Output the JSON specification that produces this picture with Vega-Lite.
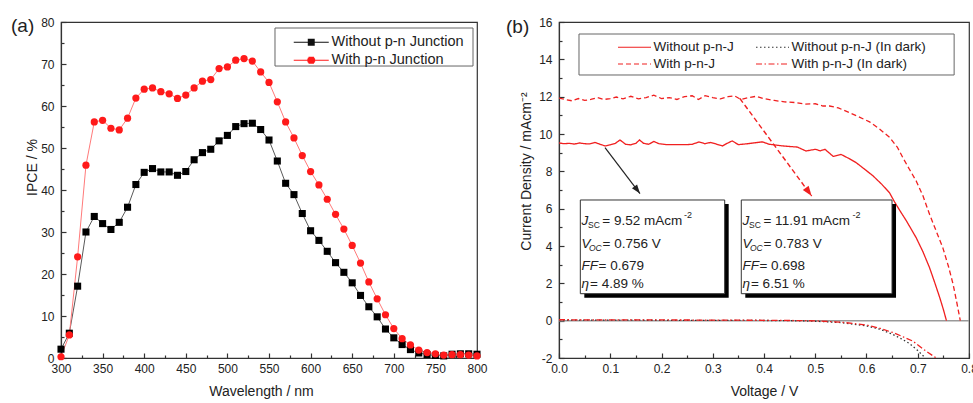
{
  "$schema": "https://vega.github.io/schema/vega-lite/v6.json",
  "background": "white",
  "padding": {"left": 10, "top": 15, "right": 0, "bottom": 0},
  "spacing": 17,
  "resolve": {"scale": {"color": "independent", "strokeDash": "independent", "shape": "independent", "stroke": "independent"}, "legend": {"color": "independent", "strokeDash": "independent", "shape": "independent", "stroke": "independent"}},
  "config": {
    "font": "Liberation Sans",
    "view": {"stroke": "#333333", "strokeWidth": 1.2},
    "axis": {"labelFont": "Liberation Sans", "titleFont": "Liberation Sans", "labelFontSize": 12, "titleFontSize": 14, "titleFontWeight": "normal", "labelColor": "#222222", "titleColor": "#222222", "domainColor": "#333333", "domainWidth": 1.2, "tickColor": "#333333", "tickWidth": 1.2, "grid": false},
    "legend": {"labelFont": "Liberation Sans", "labelColor": "#222222"},
    "text": {"font": "Liberation Sans", "color": "#222222"}
  },
  "datasets": {
    "ipce": [
      {"w":300,"v":2.1,"s":"Without p-n Junction"},{"w":310,"v":5.9,"s":"Without p-n Junction"},{"w":320,"v":17.1,"s":"Without p-n Junction"},{"w":330,"v":30.0,"s":"Without p-n Junction"},{"w":340,"v":33.7,"s":"Without p-n Junction"},{"w":350,"v":32.0,"s":"Without p-n Junction"},{"w":360,"v":30.6,"s":"Without p-n Junction"},{"w":370,"v":32.3,"s":"Without p-n Junction"},{"w":380,"v":35.9,"s":"Without p-n Junction"},{"w":390,"v":41.3,"s":"Without p-n Junction"},{"w":400,"v":44.2,"s":"Without p-n Junction"},{"w":410,"v":45.1,"s":"Without p-n Junction"},{"w":420,"v":44.3,"s":"Without p-n Junction"},{"w":430,"v":44.3,"s":"Without p-n Junction"},{"w":440,"v":43.5,"s":"Without p-n Junction"},{"w":450,"v":44.4,"s":"Without p-n Junction"},{"w":460,"v":47.2,"s":"Without p-n Junction"},{"w":470,"v":48.9,"s":"Without p-n Junction"},{"w":480,"v":49.7,"s":"Without p-n Junction"},{"w":490,"v":51.7,"s":"Without p-n Junction"},{"w":500,"v":53.0,"s":"Without p-n Junction"},{"w":510,"v":55.1,"s":"Without p-n Junction"},{"w":520,"v":55.8,"s":"Without p-n Junction"},{"w":530,"v":55.9,"s":"Without p-n Junction"},{"w":540,"v":54.4,"s":"Without p-n Junction"},{"w":550,"v":51.9,"s":"Without p-n Junction"},{"w":560,"v":46.9,"s":"Without p-n Junction"},{"w":570,"v":41.6,"s":"Without p-n Junction"},{"w":580,"v":38.9,"s":"Without p-n Junction"},{"w":590,"v":34.4,"s":"Without p-n Junction"},{"w":600,"v":30.3,"s":"Without p-n Junction"},{"w":610,"v":28.0,"s":"Without p-n Junction"},{"w":620,"v":25.4,"s":"Without p-n Junction"},{"w":630,"v":22.7,"s":"Without p-n Junction"},{"w":640,"v":20.4,"s":"Without p-n Junction"},{"w":650,"v":17.9,"s":"Without p-n Junction"},{"w":660,"v":14.9,"s":"Without p-n Junction"},{"w":670,"v":12.2,"s":"Without p-n Junction"},{"w":680,"v":9.8,"s":"Without p-n Junction"},{"w":690,"v":6.9,"s":"Without p-n Junction"},{"w":700,"v":4.8,"s":"Without p-n Junction"},{"w":710,"v":3.2,"s":"Without p-n Junction"},{"w":720,"v":2.0,"s":"Without p-n Junction"},{"w":730,"v":1.2,"s":"Without p-n Junction"},{"w":740,"v":0.8,"s":"Without p-n Junction"},{"w":750,"v":0.6,"s":"Without p-n Junction"},{"w":760,"v":0.5,"s":"Without p-n Junction"},{"w":770,"v":0.9,"s":"Without p-n Junction"},{"w":780,"v":1.0,"s":"Without p-n Junction"},{"w":790,"v":1.0,"s":"Without p-n Junction"},{"w":800,"v":0.9,"s":"Without p-n Junction"},
      {"w":300,"v":0.3,"s":"With p-n Junction"},{"w":310,"v":5.5,"s":"With p-n Junction"},{"w":320,"v":24.1,"s":"With p-n Junction"},{"w":330,"v":45.9,"s":"With p-n Junction"},{"w":340,"v":56.2,"s":"With p-n Junction"},{"w":350,"v":56.6,"s":"With p-n Junction"},{"w":360,"v":54.7,"s":"With p-n Junction"},{"w":370,"v":54.3,"s":"With p-n Junction"},{"w":380,"v":57.1,"s":"With p-n Junction"},{"w":390,"v":61.9,"s":"With p-n Junction"},{"w":400,"v":64.0,"s":"With p-n Junction"},{"w":410,"v":64.3,"s":"With p-n Junction"},{"w":420,"v":63.4,"s":"With p-n Junction"},{"w":430,"v":62.9,"s":"With p-n Junction"},{"w":440,"v":61.8,"s":"With p-n Junction"},{"w":450,"v":62.6,"s":"With p-n Junction"},{"w":460,"v":64.3,"s":"With p-n Junction"},{"w":470,"v":65.9,"s":"With p-n Junction"},{"w":480,"v":66.3,"s":"With p-n Junction"},{"w":490,"v":68.9,"s":"With p-n Junction"},{"w":500,"v":69.3,"s":"With p-n Junction"},{"w":510,"v":70.9,"s":"With p-n Junction"},{"w":520,"v":71.3,"s":"With p-n Junction"},{"w":530,"v":70.7,"s":"With p-n Junction"},{"w":540,"v":68.1,"s":"With p-n Junction"},{"w":550,"v":65.6,"s":"With p-n Junction"},{"w":560,"v":61.0,"s":"With p-n Junction"},{"w":570,"v":56.2,"s":"With p-n Junction"},{"w":580,"v":52.4,"s":"With p-n Junction"},{"w":590,"v":48.2,"s":"With p-n Junction"},{"w":600,"v":44.4,"s":"With p-n Junction"},{"w":610,"v":41.2,"s":"With p-n Junction"},{"w":620,"v":37.8,"s":"With p-n Junction"},{"w":630,"v":34.2,"s":"With p-n Junction"},{"w":640,"v":30.7,"s":"With p-n Junction"},{"w":650,"v":26.8,"s":"With p-n Junction"},{"w":660,"v":22.6,"s":"With p-n Junction"},{"w":670,"v":18.1,"s":"With p-n Junction"},{"w":680,"v":14.1,"s":"With p-n Junction"},{"w":690,"v":10.3,"s":"With p-n Junction"},{"w":700,"v":7.0,"s":"With p-n Junction"},{"w":710,"v":4.6,"s":"With p-n Junction"},{"w":720,"v":3.1,"s":"With p-n Junction"},{"w":730,"v":1.9,"s":"With p-n Junction"},{"w":740,"v":1.3,"s":"With p-n Junction"},{"w":750,"v":1.0,"s":"With p-n Junction"},{"w":760,"v":0.7,"s":"With p-n Junction"},{"w":770,"v":0.8,"s":"With p-n Junction"},{"w":780,"v":0.8,"s":"With p-n Junction"},{"w":790,"v":0.7,"s":"With p-n Junction"},{"w":800,"v":0.5,"s":"With p-n Junction"}
    ],
    "jv": [
      {"V":0.000,"J":9.52,"s":"Without p-n-J"},{"V":0.010,"J":9.48,"s":"Without p-n-J"},{"V":0.020,"J":9.50,"s":"Without p-n-J"},{"V":0.030,"J":9.46,"s":"Without p-n-J"},{"V":0.040,"J":9.52,"s":"Without p-n-J"},{"V":0.050,"J":9.48,"s":"Without p-n-J"},{"V":0.060,"J":9.47,"s":"Without p-n-J"},{"V":0.070,"J":9.55,"s":"Without p-n-J"},{"V":0.080,"J":9.45,"s":"Without p-n-J"},{"V":0.090,"J":9.36,"s":"Without p-n-J"},{"V":0.100,"J":9.42,"s":"Without p-n-J"},{"V":0.110,"J":9.50,"s":"Without p-n-J"},{"V":0.119,"J":9.68,"s":"Without p-n-J"},{"V":0.130,"J":9.45,"s":"Without p-n-J"},{"V":0.140,"J":9.42,"s":"Without p-n-J"},{"V":0.150,"J":9.50,"s":"Without p-n-J"},{"V":0.157,"J":9.68,"s":"Without p-n-J"},{"V":0.165,"J":9.50,"s":"Without p-n-J"},{"V":0.175,"J":9.45,"s":"Without p-n-J"},{"V":0.185,"J":9.60,"s":"Without p-n-J"},{"V":0.195,"J":9.48,"s":"Without p-n-J"},{"V":0.210,"J":9.43,"s":"Without p-n-J"},{"V":0.230,"J":9.43,"s":"Without p-n-J"},{"V":0.250,"J":9.43,"s":"Without p-n-J"},{"V":0.260,"J":9.45,"s":"Without p-n-J"},{"V":0.273,"J":9.57,"s":"Without p-n-J"},{"V":0.285,"J":9.48,"s":"Without p-n-J"},{"V":0.296,"J":9.55,"s":"Without p-n-J"},{"V":0.308,"J":9.45,"s":"Without p-n-J"},{"V":0.319,"J":9.36,"s":"Without p-n-J"},{"V":0.328,"J":9.50,"s":"Without p-n-J"},{"V":0.338,"J":9.63,"s":"Without p-n-J"},{"V":0.350,"J":9.43,"s":"Without p-n-J"},{"V":0.365,"J":9.47,"s":"Without p-n-J"},{"V":0.380,"J":9.52,"s":"Without p-n-J"},{"V":0.397,"J":9.58,"s":"Without p-n-J"},{"V":0.410,"J":9.45,"s":"Without p-n-J"},{"V":0.425,"J":9.40,"s":"Without p-n-J"},{"V":0.437,"J":9.36,"s":"Without p-n-J"},{"V":0.450,"J":9.33,"s":"Without p-n-J"},{"V":0.465,"J":9.30,"s":"Without p-n-J"},{"V":0.482,"J":9.09,"s":"Without p-n-J"},{"V":0.500,"J":9.18,"s":"Without p-n-J"},{"V":0.510,"J":9.10,"s":"Without p-n-J"},{"V":0.519,"J":9.18,"s":"Without p-n-J"},{"V":0.535,"J":8.80,"s":"Without p-n-J"},{"V":0.550,"J":8.91,"s":"Without p-n-J"},{"V":0.565,"J":8.70,"s":"Without p-n-J"},{"V":0.580,"J":8.46,"s":"Without p-n-J"},{"V":0.597,"J":8.10,"s":"Without p-n-J"},{"V":0.613,"J":7.75,"s":"Without p-n-J"},{"V":0.630,"J":7.30,"s":"Without p-n-J"},{"V":0.645,"J":6.85,"s":"Without p-n-J"},{"V":0.655,"J":6.35,"s":"Without p-n-J"},{"V":0.665,"J":5.90,"s":"Without p-n-J"},{"V":0.678,"J":5.34,"s":"Without p-n-J"},{"V":0.697,"J":4.44,"s":"Without p-n-J"},{"V":0.710,"J":3.70,"s":"Without p-n-J"},{"V":0.723,"J":2.84,"s":"Without p-n-J"},{"V":0.733,"J":2.05,"s":"Without p-n-J"},{"V":0.743,"J":1.23,"s":"Without p-n-J"},{"V":0.750,"J":0.60,"s":"Without p-n-J"},{"V":0.756,"J":0.00,"s":"Without p-n-J"},
      {"V":0.000,"J":0.03,"s":"Without p-n-J (In dark)"},{"V":0.100,"J":0.03,"s":"Without p-n-J (In dark)"},{"V":0.200,"J":0.02,"s":"Without p-n-J (In dark)"},{"V":0.300,"J":0.02,"s":"Without p-n-J (In dark)"},{"V":0.400,"J":0.01,"s":"Without p-n-J (In dark)"},{"V":0.450,"J":0.00,"s":"Without p-n-J (In dark)"},{"V":0.500,"J":-0.03,"s":"Without p-n-J (In dark)"},{"V":0.550,"J":-0.10,"s":"Without p-n-J (In dark)"},{"V":0.600,"J":-0.28,"s":"Without p-n-J (In dark)"},{"V":0.625,"J":-0.45,"s":"Without p-n-J (In dark)"},{"V":0.650,"J":-0.72,"s":"Without p-n-J (In dark)"},{"V":0.670,"J":-1.00,"s":"Without p-n-J (In dark)"},{"V":0.684,"J":-1.23,"s":"Without p-n-J (In dark)"},{"V":0.700,"J":-1.60,"s":"Without p-n-J (In dark)"},{"V":0.715,"J":-2.00,"s":"Without p-n-J (In dark)"},
      {"V":0.000,"J":11.92,"s":"With p-n-J"},{"V":0.012,"J":11.85,"s":"With p-n-J"},{"V":0.025,"J":11.78,"s":"With p-n-J"},{"V":0.038,"J":11.90,"s":"With p-n-J"},{"V":0.050,"J":11.80,"s":"With p-n-J"},{"V":0.062,"J":11.85,"s":"With p-n-J"},{"V":0.075,"J":11.95,"s":"With p-n-J"},{"V":0.088,"J":11.85,"s":"With p-n-J"},{"V":0.100,"J":11.90,"s":"With p-n-J"},{"V":0.112,"J":11.98,"s":"With p-n-J"},{"V":0.125,"J":11.88,"s":"With p-n-J"},{"V":0.140,"J":12.02,"s":"With p-n-J"},{"V":0.155,"J":11.88,"s":"With p-n-J"},{"V":0.170,"J":11.95,"s":"With p-n-J"},{"V":0.185,"J":12.08,"s":"With p-n-J"},{"V":0.200,"J":11.90,"s":"With p-n-J"},{"V":0.215,"J":11.95,"s":"With p-n-J"},{"V":0.230,"J":11.85,"s":"With p-n-J"},{"V":0.245,"J":12.00,"s":"With p-n-J"},{"V":0.260,"J":12.05,"s":"With p-n-J"},{"V":0.272,"J":11.85,"s":"With p-n-J"},{"V":0.285,"J":12.05,"s":"With p-n-J"},{"V":0.300,"J":11.95,"s":"With p-n-J"},{"V":0.315,"J":11.88,"s":"With p-n-J"},{"V":0.330,"J":12.00,"s":"With p-n-J"},{"V":0.342,"J":12.05,"s":"With p-n-J"},{"V":0.355,"J":11.85,"s":"With p-n-J"},{"V":0.370,"J":11.95,"s":"With p-n-J"},{"V":0.385,"J":12.02,"s":"With p-n-J"},{"V":0.398,"J":11.90,"s":"With p-n-J"},{"V":0.420,"J":11.80,"s":"With p-n-J"},{"V":0.440,"J":11.72,"s":"With p-n-J"},{"V":0.463,"J":11.68,"s":"With p-n-J"},{"V":0.480,"J":11.60,"s":"With p-n-J"},{"V":0.500,"J":11.62,"s":"With p-n-J"},{"V":0.515,"J":11.50,"s":"With p-n-J"},{"V":0.528,"J":11.50,"s":"With p-n-J"},{"V":0.545,"J":11.40,"s":"With p-n-J"},{"V":0.567,"J":11.14,"s":"With p-n-J"},{"V":0.585,"J":10.92,"s":"With p-n-J"},{"V":0.606,"J":10.65,"s":"With p-n-J"},{"V":0.625,"J":10.28,"s":"With p-n-J"},{"V":0.645,"J":9.82,"s":"With p-n-J"},{"V":0.660,"J":9.30,"s":"With p-n-J"},{"V":0.671,"J":8.73,"s":"With p-n-J"},{"V":0.684,"J":8.10,"s":"With p-n-J"},{"V":0.697,"J":7.48,"s":"With p-n-J"},{"V":0.710,"J":6.70,"s":"With p-n-J"},{"V":0.723,"J":5.70,"s":"With p-n-J"},{"V":0.736,"J":4.80,"s":"With p-n-J"},{"V":0.749,"J":3.90,"s":"With p-n-J"},{"V":0.760,"J":2.90,"s":"With p-n-J"},{"V":0.769,"J":1.95,"s":"With p-n-J"},{"V":0.776,"J":1.00,"s":"With p-n-J"},{"V":0.783,"J":0.00,"s":"With p-n-J"},
      {"V":0.000,"J":0.05,"s":"With p-n-J (In dark)"},{"V":0.100,"J":0.04,"s":"With p-n-J (In dark)"},{"V":0.200,"J":0.04,"s":"With p-n-J (In dark)"},{"V":0.300,"J":0.03,"s":"With p-n-J (In dark)"},{"V":0.400,"J":0.02,"s":"With p-n-J (In dark)"},{"V":0.450,"J":0.01,"s":"With p-n-J (In dark)"},{"V":0.500,"J":-0.01,"s":"With p-n-J (In dark)"},{"V":0.550,"J":-0.08,"s":"With p-n-J (In dark)"},{"V":0.600,"J":-0.23,"s":"With p-n-J (In dark)"},{"V":0.625,"J":-0.40,"s":"With p-n-J (In dark)"},{"V":0.652,"J":-0.64,"s":"With p-n-J (In dark)"},{"V":0.670,"J":-0.85,"s":"With p-n-J (In dark)"},{"V":0.690,"J":-1.09,"s":"With p-n-J (In dark)"},{"V":0.716,"J":-1.63,"s":"With p-n-J (In dark)"},{"V":0.736,"J":-2.00,"s":"With p-n-J (In dark)"}
    ],
    "arrows": [
      {"a":"k","p":0,"x":0.0898,"y":9.27},{"a":"k","p":1,"x":0.158,"y":6.81},
      {"a":"r","p":0,"x":0.353,"y":11.9},{"a":"r","p":1,"x":0.493,"y":6.68}
    ],
    "boxes": [
      {"b":1,"x":0.0416,"x2":0.3233,"y":6.465,"y2":1.445},
      {"b":2,"x":0.3557,"x2":0.6498,"y":6.465,"y2":1.445}
    ],
    "boxtext": [
      {"x":0.0439,"y":5.34,"t":"J","k":"it"},
      {"x":0.0566,"y":5.34,"t":"SC","k":"sub"},
      {"x":0.0845,"y":5.34,"t":"= 9.52 mAcm","k":"rm"},
      {"x":0.2439,"y":5.34,"t":"-2","k":"sup"},
      {"x":0.0439,"y":4.09,"t":"V","k":"it"},
      {"x":0.0585,"y":4.09,"t":"OC","k":"itsub"},
      {"x":0.0849,"y":4.09,"t":"= 0.756 V","k":"rm"},
      {"x":0.0439,"y":2.93,"t":"FF","k":"it"},
      {"x":0.0771,"y":2.93,"t":"= 0.679","k":"rm"},
      {"x":0.0439,"y":1.95,"t":"η","k":"it"},
      {"x":0.0605,"y":1.95,"t":"= 4.89 %","k":"rm"},
      {"x":0.3580,"y":5.34,"t":"J","k":"it"},
      {"x":0.3707,"y":5.34,"t":"SC","k":"sub"},
      {"x":0.3990,"y":5.34,"t":"= 11.91 mAcm","k":"rm"},
      {"x":0.5727,"y":5.34,"t":"-2","k":"sup"},
      {"x":0.3580,"y":4.09,"t":"V","k":"it"},
      {"x":0.3727,"y":4.09,"t":"OC","k":"itsub"},
      {"x":0.3990,"y":4.09,"t":"= 0.783 V","k":"rm"},
      {"x":0.3580,"y":2.93,"t":"FF","k":"it"},
      {"x":0.3912,"y":2.93,"t":"= 0.698","k":"rm"},
      {"x":0.3580,"y":1.95,"t":"η","k":"it"},
      {"x":0.3746,"y":1.95,"t":"= 6.51 %","k":"rm"}
    ]
  },
  "hconcat": [
    {
      "width": 416,
      "height": 336,
      "data": {"name": "ipce"},
      "layer": [
        {
          "data": {"values": [{"x": 557.2, "x2": 795.2, "y": 78.57, "y2": 69.52}]},
          "mark": {"type": "rect", "fill": "white", "stroke": "#666666", "strokeWidth": 1},
          "encoding": {
            "x": {"field": "x", "type": "quantitative", "scale": {"domain": [300, 800], "nice": false, "zero": false}, "axis": null},
            "x2": {"field": "x2"},
            "y": {"field": "y", "type": "quantitative", "scale": {"domain": [0, 80], "nice": false, "zero": false}, "axis": null},
            "y2": {"field": "y2"}
          }
        },
        {
          "mark": {"type": "point", "filled": false, "opacity": 0, "size": 10},
          "encoding": {
            "x": {"field": "w", "type": "quantitative", "scale": {"domain": [300, 800], "nice": false, "zero": false}, "axis": null},
            "y": {"field": "v", "type": "quantitative", "scale": {"domain": [0, 80], "nice": false, "zero": false}, "axis": null},
            "color": {"field": "s", "type": "nominal", "scale": {"domain": ["Without p-n Junction", "With p-n Junction"], "range": ["#111111", "#ff1a1a"]},
              "legend": {"orient": "none", "legendX": 233, "legendY": 13, "title": null, "symbolSize": 144, "symbolOffset": 10, "labelOffset": 13, "rowPadding": 3, "padding": 0, "labelFontSize": 14.5, "symbolOpacity": 1, "symbolStrokeWidth": 1.2}},
            "shape": {"field": "s", "type": "nominal", "scale": {"domain": ["Without p-n Junction", "With p-n Junction"], "range": ["M-2.917,0L2.917,0M-0.58,-0.5L0.58,-0.5M-0.58,-0.333L0.58,-0.333M-0.58,-0.167L0.58,-0.167M-0.58,0.167L0.58,0.167M-0.58,0.333L0.58,0.333M-0.58,0.5L0.58,0.5", "M-2.917,0L2.917,0M-0.45,-0.5L0.45,-0.5M-0.58,-0.333L0.58,-0.333M-0.65,-0.167L0.65,-0.167M-0.65,0.167L0.65,0.167M-0.58,0.333L0.58,0.333M-0.45,0.5L0.45,0.5"]},
              "legend": {"orient": "none", "legendX": 233, "legendY": 13, "title": null, "symbolSize": 144, "symbolOffset": 10, "labelOffset": 13, "rowPadding": 3, "padding": 0, "labelFontSize": 14.5, "symbolOpacity": 1, "symbolStrokeWidth": 1.2}}
          }
        },
        {
          "transform": [{"filter": "datum.s === 'Without p-n Junction'"}],
          "mark": {"type": "line", "strokeWidth": 1, "color": "#5a5a5a"},
          "encoding": {
            "x": {"field": "w", "type": "quantitative", "scale": {"domain": [300, 800], "nice": false, "zero": false},
              "axis": {"orient": "bottom", "values": [300,350,400,450,500,550,600,650,700,750,800], "tickSize": -5, "labelPadding": 10.5, "labelFlush": false, "labelOverlap": false, "title": "Wavelength / nm", "titlePadding": 10, "titleX": 200}},
            "y": {"field": "v", "type": "quantitative", "scale": {"domain": [0, 80], "nice": false, "zero": false},
              "axis": {"orient": "left", "values": [0,10,20,30,40,50,60,70,80], "tickSize": -5, "labelPadding": 12, "labelFlush": false, "labelOverlap": false, "title": "IPCE / %", "titlePadding": 1, "titleY": 145}}
          }
        },
        {
          "transform": [{"filter": "datum.s === 'With p-n Junction'"}],
          "mark": {"type": "line", "strokeWidth": 1, "color": "#ff7a7a"},
          "encoding": {
            "x": {"field": "w", "type": "quantitative", "scale": {"domain": [300, 800], "nice": false, "zero": false}, "axis": null},
            "y": {"field": "v", "type": "quantitative", "scale": {"domain": [0, 80], "nice": false, "zero": false}, "axis": null}
          }
        },
        {
          "transform": [{"filter": "datum.s === 'Without p-n Junction'"}],
          "mark": {"type": "point", "shape": "square", "filled": true, "opacity": 1, "size": 50, "strokeWidth": 0, "color": "#000000"},
          "encoding": {
            "x": {"field": "w", "type": "quantitative", "scale": {"domain": [300, 800], "nice": false, "zero": false},
              "axis": {"orient": "bottom", "values": [325,375,425,475,525,575,625,675,725,775], "tickSize": -3, "labels": false, "domain": false, "title": null}},
            "y": {"field": "v", "type": "quantitative", "scale": {"domain": [0, 80], "nice": false, "zero": false},
              "axis": {"orient": "left", "values": [5,15,25,35,45,55,65,75], "tickSize": -3, "labels": false, "domain": false, "title": null}}
          }
        },
        {
          "transform": [{"filter": "datum.s === 'With p-n Junction'"}],
          "mark": {"type": "point", "shape": "circle", "filled": true, "opacity": 1, "size": 52, "strokeWidth": 0, "color": "#ff1a1a"},
          "encoding": {
            "x": {"field": "w", "type": "quantitative", "scale": {"domain": [300, 800], "nice": false, "zero": false}, "axis": null},
            "y": {"field": "v", "type": "quantitative", "scale": {"domain": [0, 80], "nice": false, "zero": false}, "axis": null}
          }
        },
        {
          "data": {"values": [{"t": "(a)", "x": 239.9, "y": 79.05}]},
          "mark": {"type": "text", "align": "left", "baseline": "middle", "fontSize": 19, "color": "#222222"},
          "encoding": {
            "x": {"field": "x", "type": "quantitative", "scale": {"domain": [300, 800], "nice": false, "zero": false}, "axis": null},
            "y": {"field": "y", "type": "quantitative", "scale": {"domain": [0, 80], "nice": false, "zero": false}, "axis": null},
            "text": {"field": "t"}
          }
        }
      ],
      "resolve": {"axis": {"x": "independent", "y": "independent"}}
    },
    {
      "width": 410,
      "height": 336,
      "layer": [
        {
          "data": {"values": [{"J": 0}]},
          "mark": {"type": "rule", "color": "#999999", "strokeWidth": 1.5},
          "encoding": {
            "y": {"field": "J", "type": "quantitative", "scale": {"domain": [-2, 16], "nice": false, "zero": false}, "axis": null}
          }
        },
        {
          "data": {"name": "jv"},
          "mark": {"type": "line", "strokeWidth": 1.3, "clip": true},
          "encoding": {
            "x": {"field": "V", "type": "quantitative", "scale": {"domain": [0, 0.8], "nice": false, "zero": false},
              "axis": {"orient": "bottom", "values": [0,0.1,0.2,0.3,0.4,0.5,0.6,0.7,0.8], "format": ".1f", "tickSize": -5, "labelPadding": 10.5, "labelFlush": false, "labelOverlap": false, "title": "Voltage / V", "titlePadding": 10}},
            "y": {"field": "J", "type": "quantitative", "scale": {"domain": [-2, 16], "nice": false, "zero": false},
              "axis": {"orient": "left", "values": [-2,0,2,4,6,8,10,12,14,16], "labelExpr": "replace(datum.label, '−', '-')", "tickSize": -5, "labelPadding": 12, "labelFlush": false, "labelOverlap": false, "title": "Current Density / mAcm⁻²", "titlePadding": 5, "titleY": 149}},
            "color": {"field": "s", "type": "nominal", "scale": {"domain": ["Without p-n-J", "With p-n-J", "Without p-n-J (In dark)", "With p-n-J (In dark)"], "range": ["#f02020", "#f02020", "#333333", "#f02020"]},
              "legend": {"orient": "none", "legendX": 62, "legendY": 18, "title": null, "columns": 2, "columnPadding": 19, "rowPadding": 3, "symbolSize": 144, "symbolType": "M-2.75,0L2.75,0", "symbolOffset": 6.5, "symbolStrokeWidth": 1.2, "labelOffset": 12, "labelFontSize": 13.5, "padding": 0}},
            "strokeDash": {"field": "s", "type": "nominal", "scale": {"domain": ["Without p-n-J", "With p-n-J", "Without p-n-J (In dark)", "With p-n-J (In dark)"], "range": [[1,0],[5,3],[1.5,2.5],[6,2.5,1.5,2.5]]},
              "legend": {"orient": "none", "legendX": 62, "legendY": 18, "title": null, "columns": 2, "columnPadding": 19, "rowPadding": 3, "symbolSize": 144, "symbolType": "M-2.75,0L2.75,0", "symbolOffset": 6.5, "symbolStrokeWidth": 1.2, "labelOffset": 12, "labelFontSize": 13.5, "padding": 0}}
          }
        },
        {
          "data": {"name": "arrows"},
          "transform": [{"filter": "datum.a === 'k'"}],
          "mark": {"type": "line", "color": "#222222", "strokeWidth": 1.2},
          "encoding": {
            "x": {"field": "x", "type": "quantitative", "scale": {"domain": [0, 0.8], "nice": false, "zero": false},
              "axis": {"orient": "bottom", "values": [0.05,0.15,0.25,0.35,0.45,0.55,0.65,0.75], "tickSize": -3, "labels": false, "domain": false, "title": null}},
            "y": {"field": "y", "type": "quantitative", "scale": {"domain": [-2, 16], "nice": false, "zero": false},
              "axis": {"orient": "left", "values": [-1,1,3,5,7,9,11,13,15], "tickSize": -3, "labels": false, "domain": false, "title": null}}
          }
        },
        {
          "data": {"name": "arrows"},
          "transform": [{"filter": "datum.a === 'r'"}],
          "mark": {"type": "line", "color": "#f02020", "strokeWidth": 1.4, "strokeDash": [5, 3]},
          "encoding": {
            "x": {"field": "x", "type": "quantitative", "scale": {"domain": [0, 0.8], "nice": false, "zero": false}, "axis": null},
            "y": {"field": "y", "type": "quantitative", "scale": {"domain": [-2, 16], "nice": false, "zero": false}, "axis": null}
          }
        },
        {
          "data": {"name": "arrows"},
          "transform": [{"filter": "datum.a === 'k' && datum.p === 1"}],
          "mark": {"type": "point", "shape": "M0,0L0.36,1L-0.36,1Z", "size": 324, "filled": true, "opacity": 1, "color": "#222222", "angle": 142.7, "strokeWidth": 0},
          "encoding": {
            "x": {"field": "x", "type": "quantitative", "scale": {"domain": [0, 0.8], "nice": false, "zero": false}, "axis": null},
            "y": {"field": "y", "type": "quantitative", "scale": {"domain": [-2, 16], "nice": false, "zero": false}, "axis": null}
          }
        },
        {
          "data": {"name": "arrows"},
          "transform": [{"filter": "datum.a === 'r' && datum.p === 1"}],
          "mark": {"type": "point", "shape": "M0,0L0.36,1L-0.36,1Z", "size": 400, "filled": true, "opacity": 1, "color": "#f02020", "angle": 143.6, "strokeWidth": 0},
          "encoding": {
            "x": {"field": "x", "type": "quantitative", "scale": {"domain": [0, 0.8], "nice": false, "zero": false}, "axis": null},
            "y": {"field": "y", "type": "quantitative", "scale": {"domain": [-2, 16], "nice": false, "zero": false}, "axis": null}
          }
        },
        {
          "data": {"name": "boxes"},
          "mark": {"type": "rect", "fill": "#000000", "xOffset": 4, "x2Offset": 4, "yOffset": 4, "y2Offset": 4},
          "encoding": {
            "x": {"field": "x", "type": "quantitative", "scale": {"domain": [0, 0.8], "nice": false, "zero": false}, "axis": null},
            "x2": {"field": "x2"},
            "y": {"field": "y", "type": "quantitative", "scale": {"domain": [-2, 16], "nice": false, "zero": false}, "axis": null},
            "y2": {"field": "y2"}
          }
        },
        {
          "data": {"name": "boxes"},
          "mark": {"type": "rect", "fill": "white", "stroke": "#333333", "strokeWidth": 1},
          "encoding": {
            "x": {"field": "x", "type": "quantitative", "scale": {"domain": [0, 0.8], "nice": false, "zero": false}, "axis": null},
            "x2": {"field": "x2"},
            "y": {"field": "y", "type": "quantitative", "scale": {"domain": [-2, 16], "nice": false, "zero": false}, "axis": null},
            "y2": {"field": "y2"}
          }
        },
        {
          "data": {"name": "boxtext"},
          "transform": [{"filter": "datum.k === 'it'"}],
          "mark": {"type": "text", "align": "left", "baseline": "middle", "fontSize": 13.5, "fontStyle": "italic", "color": "#222222"},
          "encoding": {
            "x": {"field": "x", "type": "quantitative", "scale": {"domain": [0, 0.8], "nice": false, "zero": false}, "axis": null},
            "y": {"field": "y", "type": "quantitative", "scale": {"domain": [-2, 16], "nice": false, "zero": false}, "axis": null},
            "text": {"field": "t"}
          }
        },
        {
          "data": {"name": "boxtext"},
          "transform": [{"filter": "datum.k === 'rm'"}],
          "mark": {"type": "text", "align": "left", "baseline": "middle", "fontSize": 13.5, "color": "#222222"},
          "encoding": {
            "x": {"field": "x", "type": "quantitative", "scale": {"domain": [0, 0.8], "nice": false, "zero": false}, "axis": null},
            "y": {"field": "y", "type": "quantitative", "scale": {"domain": [-2, 16], "nice": false, "zero": false}, "axis": null},
            "text": {"field": "t"}
          }
        },
        {
          "data": {"name": "boxtext"},
          "transform": [{"filter": "datum.k === 'sub'"}],
          "mark": {"type": "text", "align": "left", "baseline": "middle", "fontSize": 8.5, "dy": 4, "color": "#222222"},
          "encoding": {
            "x": {"field": "x", "type": "quantitative", "scale": {"domain": [0, 0.8], "nice": false, "zero": false}, "axis": null},
            "y": {"field": "y", "type": "quantitative", "scale": {"domain": [-2, 16], "nice": false, "zero": false}, "axis": null},
            "text": {"field": "t"}
          }
        },
        {
          "data": {"name": "boxtext"},
          "transform": [{"filter": "datum.k === 'itsub'"}],
          "mark": {"type": "text", "align": "left", "baseline": "middle", "fontSize": 8.5, "fontStyle": "italic", "dy": 4, "color": "#222222"},
          "encoding": {
            "x": {"field": "x", "type": "quantitative", "scale": {"domain": [0, 0.8], "nice": false, "zero": false}, "axis": null},
            "y": {"field": "y", "type": "quantitative", "scale": {"domain": [-2, 16], "nice": false, "zero": false}, "axis": null},
            "text": {"field": "t"}
          }
        },
        {
          "data": {"name": "boxtext"},
          "transform": [{"filter": "datum.k === 'sup'"}],
          "mark": {"type": "text", "align": "left", "baseline": "middle", "fontSize": 9, "dy": -6, "color": "#222222"},
          "encoding": {
            "x": {"field": "x", "type": "quantitative", "scale": {"domain": [0, 0.8], "nice": false, "zero": false}, "axis": null},
            "y": {"field": "y", "type": "quantitative", "scale": {"domain": [-2, 16], "nice": false, "zero": false}, "axis": null},
            "text": {"field": "t"}
          }
        },
        {
          "data": {"values": [{"x": 0.039, "x2": 0.771, "y": 15.357, "y2": 13.161}]},
          "mark": {"type": "rect", "fill": "white", "stroke": "#666666", "strokeWidth": 1},
          "encoding": {
            "x": {"field": "x", "type": "quantitative", "scale": {"domain": [0, 0.8], "nice": false, "zero": false}, "axis": null},
            "x2": {"field": "x2"},
            "y": {"field": "y", "type": "quantitative", "scale": {"domain": [-2, 16], "nice": false, "zero": false}, "axis": null},
            "y2": {"field": "y2"}
          }
        },
        {
          "data": {"values": [{"t": "(b)", "x": -0.1034, "y": 15.73}]},
          "mark": {"type": "text", "align": "left", "baseline": "middle", "fontSize": 19, "color": "#222222"},
          "encoding": {
            "x": {"field": "x", "type": "quantitative", "scale": {"domain": [0, 0.8], "nice": false, "zero": false}, "axis": null},
            "y": {"field": "y", "type": "quantitative", "scale": {"domain": [-2, 16], "nice": false, "zero": false}, "axis": null},
            "text": {"field": "t"}
          }
        }
      ],
      "resolve": {"axis": {"x": "independent", "y": "independent"}}
    }
  ]
}
